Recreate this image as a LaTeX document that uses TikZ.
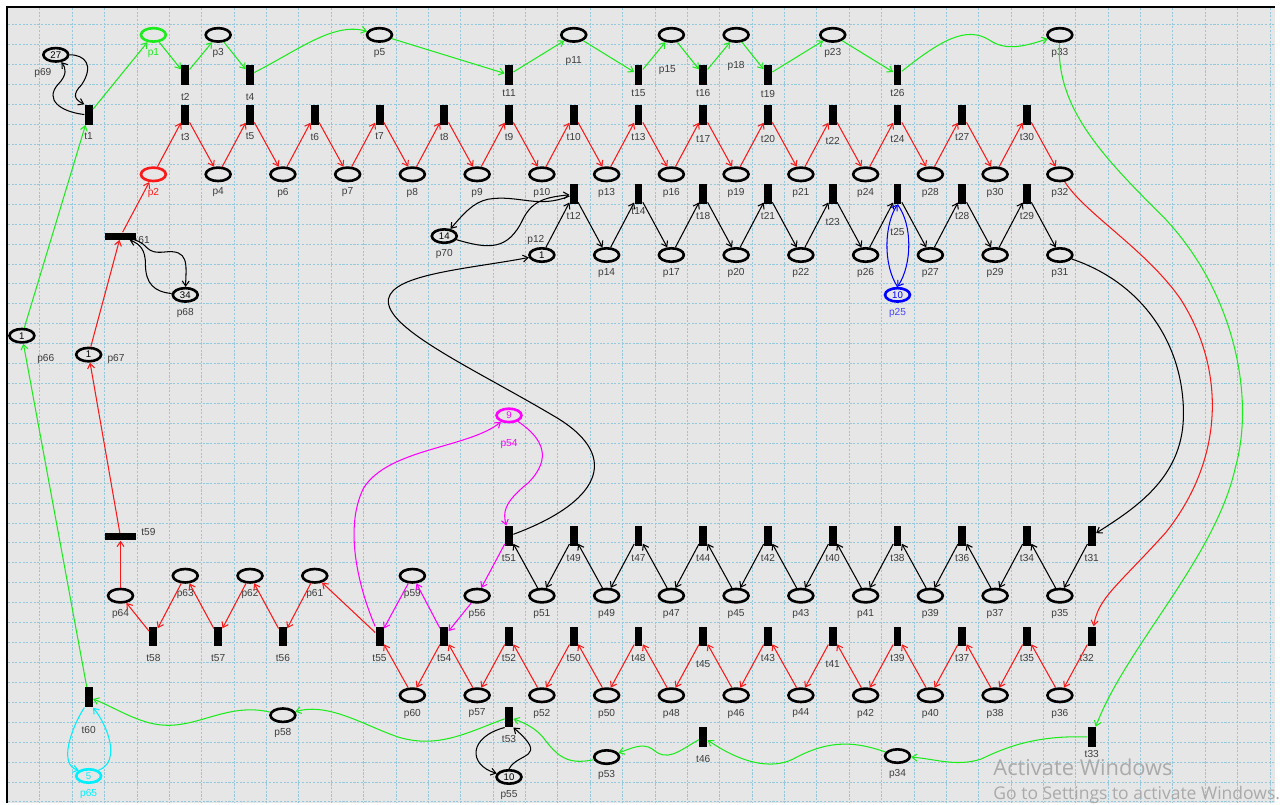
\documentclass[tikz,border=0pt]{standalone}
\usepackage{fontspec}
\setmainfont{Liberation Sans}
\newfontfamily\winfont{Open Sans}
\usetikzlibrary{arrows.meta, shapes.geometric}

\definecolor{bggray}{RGB}{230,230,230}
\definecolor{gridblue}{RGB}{150,200,220}
\definecolor{lblgray}{RGB}{60,60,60}
\definecolor{netgreen}{RGB}{30,235,30}
\definecolor{netred}{RGB}{250,25,25}
\definecolor{netpink}{RGB}{255,0,255}
\definecolor{netblue}{RGB}{0,0,255}
\definecolor{lblblue}{RGB}{70,70,255}
\definecolor{netcyan}{RGB}{0,240,255}
\definecolor{wingray}{RGB}{170,170,170}

\begin{document}
\begin{tikzpicture}[x=0.02cm, y=-0.02cm,
    place/.style={draw, ellipse, line width=1.5pt, minimum width=0.5cm,
                  minimum height=0.27cm, inner sep=0pt},
    trans/.style={fill=black, minimum width=0.16cm, minimum height=0.4cm, inner sep=0pt},
    htrans/.style={fill=black, minimum width=0.62cm, minimum height=0.14cm, inner sep=0pt},
    pl/.style={label={[yshift=-0.07cm]below:#1}},
    tl/.style={label={[yshift=-0.12cm]below:#1}},
    token/.style={font=\fontsize{5.5}{6}\selectfont, inner sep=0pt, text=black},
    gridline/.style={gridblue, line width=0.5pt, dash pattern=on 1.2pt off 0.9pt},
    flow/.style={-{Straight Barb[length=1mm,width=1.4mm]}, line width=0.6pt},
    gflow/.style={flow, draw=netgreen},
    rflow/.style={flow, draw=netred},
    kflow/.style={flow, draw=black},
    mflow/.style={flow, draw=netpink},
    bflow/.style={flow, draw=netblue},
    cflow/.style={flow, draw=netcyan},
    every label/.style={font=\fontsize{5.8}{6}\selectfont, text=lblgray, inner sep=1pt}
]
% Sheet and grid
\fill[white] (0,0) rectangle (1280,806);
\fill[bggray] (7,7) rectangle (1280,806);
\foreach \gx in {1,...,39} \draw[gridline] (7.5+32.5*\gx,8) -- (7.5+32.5*\gx,806);
\foreach \gy in {1,...,40} \draw[gridline] (8,5+20*\gy) -- (1280,5+20*\gy);
\draw[line width=1.2pt] (7,806) -- (7,7) -- (1280,7);

% Top row
\node[place, draw=netgreen, label={[text=netgreen,yshift=-0.07cm]below:p1}] (p1) at (154,35) {};
\node[place, pl=p3] (p3) at (219,35) {};
\node[place, pl=p5] (p5) at (381,35) {};
\node[place, label={[yshift=-0.23cm]below:p11}] (p11) at (576,35) {};
\node[place, label={[xshift=-0.08cm,yshift=-0.41cm]below:p15}] (p15) at (674,35) {};
\node[place, label={[yshift=-0.33cm]below:p18}] (p18) at (739,35) {};
\node[place, pl=p23] (p23) at (836,35) {};
\node[place, pl=p33] (p33) at (1064,35) {};
\node[trans, tl=t2] (t2) at (186,75) {};
\node[trans, tl=t4] (t4) at (251,75) {};
\node[trans, label={[yshift=-0.04cm]below:t11}] (t11) at (511,75) {};
\node[trans, label={[yshift=-0.04cm]below:t15}] (t15) at (641,75) {};
\node[trans, label={[yshift=-0.04cm]below:t16}] (t16) at (706,75) {};
\node[trans, label={[yshift=-0.06cm]below:t19}] (t19) at (771,75) {};
\node[trans, label={[yshift=-0.04cm]below:t26}] (t26) at (901,75) {};

% Second row transitions
\node[trans, tl=t1] (t1) at (89,115) {};
\node[trans, tl=t3] (t3) at (186,115) {};
\node[trans, tl=t5] (t5) at (251,115) {};
\node[trans, tl=t6] (t6) at (316,115) {};
\node[trans, tl=t7] (t7) at (381,115) {};
\node[trans, tl=t8] (t8) at (446,115) {};
\node[trans, tl=t9] (t9) at (511,115) {};
\node[trans, tl=t10] (t10) at (576,115) {};
\node[trans, tl=t13] (t13) at (641,115) {};
\node[trans, label={[yshift=-0.18cm]below:t17}] (t17) at (706,115) {};
\node[trans, label={[yshift=-0.16cm]below:t20}] (t20) at (771,115) {};
\node[trans, label={[yshift=-0.2cm]below:t22}] (t22) at (836,115) {};
\node[trans, label={[yshift=-0.16cm]below:t24}] (t24) at (901,115) {};
\node[trans, tl=t27] (t27) at (966,115) {};
\node[trans, tl=t30] (t30) at (1031,115) {};

% Third row places
\node[place, draw=netred, label={[text=netred,yshift=-0.07cm]below:p2}] (p2) at (154,175) {};
\node[place, pl=p4] (p4) at (219,175) {};
\node[place, pl=p6] (p6) at (284,175) {};
\node[place, pl=p7] (p7) at (349,175) {};
\node[place, pl=p8] (p8) at (414,175) {};
\node[place, pl=p9] (p9) at (479,175) {};
\node[place, pl=p10] (p10) at (544,175) {};
\node[place, pl=p13] (p13) at (609,175) {};
\node[place, pl=p16] (p16) at (674,175) {};
\node[place, pl=p19] (p19) at (739,175) {};
\node[place, pl=p21] (p21) at (804,175) {};
\node[place, pl=p24] (p24) at (869,175) {};
\node[place, pl=p28] (p28) at (934,175) {};
\node[place, pl=p30] (p30) at (999,175) {};
\node[place, pl=p32] (p32) at (1064,175) {};

% Fourth row transitions
\node[trans, tl=t12] (t12) at (576,195) {};
\node[trans, label={[yshift=-0.02cm]below:t14}] (t14) at (641,195) {};
\node[trans, tl=t18] (t18) at (706,195) {};
\node[trans, tl=t21] (t21) at (771,195) {};
\node[trans, label={[yshift=-0.24cm]below:t23}] (t23) at (836,195) {};
\node[trans, label={[yshift=-0.44cm]below:t25}] (t25) at (901,195) {};
\node[trans, tl=t28] (t28) at (966,195) {};
\node[trans, tl=t29] (t29) at (1031,195) {};

% Fifth row places
\node[place, label={[token]center:1}, label={[xshift=-0.12cm]above:p12}] (p12) at (544,256) {};
\node[place, pl=p14] (p14) at (609,256) {};
\node[place, pl=p17] (p17) at (674,256) {};
\node[place, pl=p20] (p20) at (739,256) {};
\node[place, pl=p22] (p22) at (804,256) {};
\node[place, pl=p26] (p26) at (869,256) {};
\node[place, pl=p27] (p27) at (934,256) {};
\node[place, pl=p29] (p29) at (999,256) {};
\node[place, pl=p31] (p31) at (1064,256) {};
\node[place, draw=netblue, label={[token, text=netblue]center:10},
      label={[text=lblblue,yshift=-0.07cm]below:p25}] (p25) at (901,296) {};

% Left side
\node[place, label={[token]center:27}, label={[xshift=-0.26cm,yshift=-0.07cm]below:p69}] (p69) at (56,55) {};
\node[htrans, label={[yshift=-0.08cm]right:61}] (t61) at (121,237) {};
\node[place, label={[token]center:34}, pl=p68] (p68) at (186,296) {};
\node[place, label={[token]center:1}, label={[xshift=0.48cm,yshift=-0.17cm]below:p66}] (p66) at (22,337) {};
\node[place, label={[token]center:1}, label={[xshift=0.06cm,yshift=-0.08cm]right:p67}] (p67) at (89,356) {};
\node[place, label={[token]center:14}, pl=p70] (p70) at (446,237) {};
\node[place, draw=netpink, label={[token, text=netpink]center:9},
      label={[text=netpink, yshift=-0.29cm]below:p54}] (p54) at (511,417) {};
\node[htrans, label={[xshift=0.06cm,yshift=0.1cm]right:t59}] (t59) at (121,539) {};

% Lower black row
\node[trans, tl=t51] (t51) at (511,538) {};
\node[trans, tl=t49] (t49) at (576,538) {};
\node[trans, tl=t47] (t47) at (641,538) {};
\node[trans, tl=t44] (t44) at (706,538) {};
\node[trans, tl=t42] (t42) at (771,538) {};
\node[trans, tl=t40] (t40) at (836,538) {};
\node[trans, tl=t38] (t38) at (901,538) {};
\node[trans, tl=t36] (t36) at (966,538) {};
\node[trans, tl=t34] (t34) at (1031,538) {};
\node[trans, tl=t31] (t31) at (1096,538) {};
\node[place, pl=p63] (p63) at (186,578) {};
\node[place, pl=p62] (p62) at (251,578) {};
\node[place, pl=p61] (p61) at (316,578) {};
\node[place, pl=p59] (p59) at (414,578) {};
\node[place, pl=p64] (p64) at (121,598) {};
\node[place, pl=p56] (p56) at (479,598) {};
\node[place, pl=p51] (p51) at (544,598) {};
\node[place, pl=p49] (p49) at (609,598) {};
\node[place, pl=p47] (p47) at (674,598) {};
\node[place, pl=p45] (p45) at (739,598) {};
\node[place, pl=p43] (p43) at (804,598) {};
\node[place, pl=p41] (p41) at (869,598) {};
\node[place, pl=p39] (p39) at (934,598) {};
\node[place, pl=p37] (p37) at (999,598) {};
\node[place, pl=p35] (p35) at (1064,598) {};

% Lower red row
\node[trans, tl=t58] (t58) at (154,639) {};
\node[trans, tl=t57] (t57) at (219,639) {};
\node[trans, tl=t56] (t56) at (284,639) {};
\node[trans, tl=t55] (t55) at (381,639) {};
\node[trans, tl=t54] (t54) at (446,639) {};
\node[trans, tl=t52] (t52) at (511,639) {};
\node[trans, tl=t50] (t50) at (576,639) {};
\node[trans, tl=t48] (t48) at (641,639) {};
\node[trans, label={[yshift=-0.24cm]below:t45}] (t45) at (706,639) {};
\node[trans, tl=t43] (t43) at (771,639) {};
\node[trans, label={[yshift=-0.24cm]below:t41}] (t41) at (836,639) {};
\node[trans, tl=t39] (t39) at (901,639) {};
\node[trans, tl=t37] (t37) at (966,639) {};
\node[trans, tl=t35] (t35) at (1031,639) {};
\node[trans, label={[xshift=-0.1cm,yshift=-0.12cm]below:t32}] (t32) at (1096,639) {};
\node[place, pl=p60] (p60) at (414,698) {};
\node[place, pl=p57] (p57) at (479,698) {};
\node[place, pl=p52] (p52) at (544,698) {};
\node[place, pl=p50] (p50) at (609,698) {};
\node[place, pl=p48] (p48) at (674,698) {};
\node[place, pl=p46] (p46) at (739,698) {};
\node[place, pl=p44] (p44) at (804,698) {};
\node[place, pl=p42] (p42) at (869,698) {};
\node[place, pl=p40] (p40) at (934,698) {};
\node[place, pl=p38] (p38) at (999,698) {};
\node[place, pl=p36] (p36) at (1064,698) {};

% Bottom row
\node[trans, label={[yshift=-0.34cm]below:t60}] (t60) at (89,700) {};
\node[place, draw=netcyan, label={[token, text=netcyan]center:5},
      label={[text=netcyan,yshift=-0.07cm]below:p65}] (p65) at (89,779) {};
\node[place, pl=p58] (p58) at (284,718) {};
\node[trans, tl=t53] (t53) at (511,720) {};
\node[place, label={[token]center:10}, pl=p55] (p55) at (511,780) {};
\node[place, pl=p53] (p53) at (609,760) {};
\node[trans, tl=t46] (t46) at (706,740) {};
\node[place, pl=p34] (p34) at (901,759) {};
\node[trans, label={[yshift=-0.01cm]below:t33}] (t33) at (1096,740) {};

% Green cycle
\draw[gflow] (t60) -- (p66);
\draw[gflow] (p66) -- (t1);
\draw[gflow] (t1) -- (p1);
\draw[gflow] (p1) -- (t2);
\draw[gflow] (t2) -- (p3);
\draw[gflow] (p3) -- (t4);
\draw[gflow] (t4) .. controls (300,50) and (335,22) .. (p5);
\draw[gflow] (p5) -- (t11);
\draw[gflow] (t11) -- (p11);
\draw[gflow] (p11) -- (t15);
\draw[gflow] (t15) -- (p15);
\draw[gflow] (p15) -- (t16);
\draw[gflow] (t16) -- (p18);
\draw[gflow] (p18) -- (t19);
\draw[gflow] (t19) -- (p23);
\draw[gflow] (p23) -- (t26);
\draw[gflow] (t26) .. controls (945,40) and (970,26) .. (993,40) .. controls (1010,52) and (1030,46) .. (p33);
\draw[gflow] (p33) .. controls (1060,110) and (1110,160) .. (1170,220)
    .. controls (1240,295) and (1260,400) .. (1240,470) .. controls (1220,560) and (1130,650) .. (t33);
\draw[gflow] (t33) .. controls (1040,738) and (1010,750) .. (985,762) .. controls (960,770) and (940,762) .. (p34);
\draw[gflow] (p34) .. controls (860,745) and (835,742) .. (800,760) .. controls (780,772) and (750,770) .. (t46);
\draw[gflow] (t46) .. controls (680,755) and (670,765) .. (655,752) .. controls (645,745) and (632,752) .. (p53);
\draw[gflow] (p53) .. controls (570,768) and (560,760) .. (545,740) .. controls (538,732) and (530,727) .. (t53);
\draw[gflow] (t53) .. controls (470,735) and (440,752) .. (400,740) .. controls (365,728) and (330,705) .. (p58);
\draw[gflow] (p58) .. controls (230,705) and (200,730) .. (165,728) .. controls (140,727) and (115,710) .. (t60);

% Red cycle, upper part
\draw[rflow] (p64) -- (t59);
\draw[rflow] (t59) -- (p67);
\draw[rflow] (p67) -- (t61);
\draw[rflow] (t61) -- (p2);
\draw[rflow] (p2) -- (t3);
\draw[rflow] (t3) -- (p4);
\draw[rflow] (p4) -- (t5);
\draw[rflow] (t5) -- (p6);
\draw[rflow] (p6) -- (t6);
\draw[rflow] (t6) -- (p7);
\draw[rflow] (p7) -- (t7);
\draw[rflow] (t7) -- (p8);
\draw[rflow] (p8) -- (t8);
\draw[rflow] (t8) -- (p9);
\draw[rflow] (p9) -- (t9);
\draw[rflow] (t9) -- (p10);
\draw[rflow] (p10) -- (t10);
\draw[rflow] (t10) -- (p13);
\draw[rflow] (p13) -- (t13);
\draw[rflow] (t13) -- (p16);
\draw[rflow] (p16) -- (t17);
\draw[rflow] (t17) -- (p19);
\draw[rflow] (p19) -- (t20);
\draw[rflow] (t20) -- (p21);
\draw[rflow] (p21) -- (t22);
\draw[rflow] (t22) -- (p24);
\draw[rflow] (p24) -- (t24);
\draw[rflow] (t24) -- (p28);
\draw[rflow] (p28) -- (t27);
\draw[rflow] (t27) -- (p30);
\draw[rflow] (p30) -- (t30);
\draw[rflow] (t30) -- (p32);
\draw[rflow] (p32) .. controls (1090,215) and (1150,250) .. (1185,300)
    .. controls (1230,370) and (1230,460) .. (1170,535) .. controls (1120,590) and (1103,600) .. (t32);

% Red cycle, lower part
\draw[rflow] (t32) -- (p36);
\draw[rflow] (p36) -- (t35);
\draw[rflow] (t35) -- (p38);
\draw[rflow] (p38) -- (t37);
\draw[rflow] (t37) -- (p40);
\draw[rflow] (p40) -- (t39);
\draw[rflow] (t39) -- (p42);
\draw[rflow] (p42) -- (t41);
\draw[rflow] (t41) -- (p44);
\draw[rflow] (p44) -- (t43);
\draw[rflow] (t43) -- (p46);
\draw[rflow] (p46) -- (t45);
\draw[rflow] (t45) -- (p48);
\draw[rflow] (p48) -- (t48);
\draw[rflow] (t48) -- (p50);
\draw[rflow] (p50) -- (t50);
\draw[rflow] (t50) -- (p52);
\draw[rflow] (p52) -- (t52);
\draw[rflow] (t52) -- (p57);
\draw[rflow] (p57) -- (t54);
\draw[rflow] (t54) -- (p60);
\draw[rflow] (p60) -- (t55);
\draw[rflow] (t55) -- (p61);
\draw[rflow] (p61) -- (t56);
\draw[rflow] (t56) -- (p62);
\draw[rflow] (p62) -- (t57);
\draw[rflow] (t57) -- (p63);
\draw[rflow] (p63) -- (t58);
\draw[rflow] (t58) -- (p64);

% Black cycle
\draw[kflow] (p12) -- (t12);
\draw[kflow] (t12) -- (p14);
\draw[kflow] (p14) -- (t14);
\draw[kflow] (t14) -- (p17);
\draw[kflow] (p17) -- (t18);
\draw[kflow] (t18) -- (p20);
\draw[kflow] (p20) -- (t21);
\draw[kflow] (t21) -- (p22);
\draw[kflow] (p22) -- (t23);
\draw[kflow] (t23) -- (p26);
\draw[kflow] (p26) -- (t25);
\draw[kflow] (t25) -- (p27);
\draw[kflow] (p27) -- (t28);
\draw[kflow] (t28) -- (p29);
\draw[kflow] (p29) -- (t29);
\draw[kflow] (t29) -- (p31);
\draw[kflow] (p31) .. controls (1150,285) and (1190,350) .. (1188,420) .. controls (1186,480) and (1140,510) .. (t31);
\draw[kflow] (t31) -- (p35);
\draw[kflow] (p35) -- (t34);
\draw[kflow] (t34) -- (p37);
\draw[kflow] (p37) -- (t36);
\draw[kflow] (t36) -- (p39);
\draw[kflow] (p39) -- (t38);
\draw[kflow] (t38) -- (p41);
\draw[kflow] (p41) -- (t40);
\draw[kflow] (t40) -- (p43);
\draw[kflow] (p43) -- (t42);
\draw[kflow] (t42) -- (p45);
\draw[kflow] (p45) -- (t44);
\draw[kflow] (t44) -- (p47);
\draw[kflow] (p47) -- (t47);
\draw[kflow] (t47) -- (p49);
\draw[kflow] (p49) -- (t49);
\draw[kflow] (t49) -- (p51);
\draw[kflow] (p51) -- (t51);
\draw[kflow] (t51) .. controls (600,505) and (625,460) .. (560,420)
    .. controls (480,372) and (385,330) .. (390,300) .. controls (395,275) and (470,270) .. (p12);

% Magenta part
\draw[mflow] (t51) -- (p56);
\draw[mflow] (p56) -- (t54);
\draw[mflow] (t54) -- (p59);
\draw[mflow] (p59) -- (t55);
\draw[mflow] (t55) .. controls (360,590) and (345,530) .. (365,490) .. controls (390,450) and (470,450) .. (p54);
\draw[mflow] (p54) .. controls (545,440) and (555,460) .. (530,485) .. controls (505,505) and (505,515) .. (t51);

% Self loops
\draw[kflow] (t1.west) .. controls (60,112) and (45,100) .. (58,85) .. controls (68,75) and (66,68) .. (p69);
\draw[kflow] (p69) .. controls (85,55) and (95,65) .. (82,85) .. controls (72,95) and (75,100) .. (t1.north west);
\draw[kflow] (p68) .. controls (155,293) and (146,285) .. (146,265) .. controls (146,250) and (140,245) .. (t61);
\draw[kflow] (t61) .. controls (150,245) and (145,255) .. (165,253) .. controls (190,250) and (187,265) .. (p68);
\draw[kflow] (p70) .. controls (490,250) and (510,252) .. (525,220) .. controls (535,200) and (550,198) .. (t12);
\draw[kflow] (t12) .. controls (540,210) and (520,195) .. (490,200) .. controls (475,203) and (465,215) .. (p70);
\draw[bflow] (p25.north) .. controls (886,265) and (888,225) .. (t25.south);
\draw[bflow] (t25.south) .. controls (916,225) and (916,265) .. (p25.north);
\draw[cflow] (t60.south west) .. controls (72,730) and (58,768) .. (p65.north west);
\draw[cflow] (p65.north east) .. controls (122,765) and (108,728) .. (t60.south east);
\draw[kflow] (t53.south west) .. controls (470,740) and (470,768) .. (p55);
\draw[kflow] (p55.north) .. controls (520,755) and (552,762) .. (t53.south east);

% Screen overlay text
\node[anchor=base west, inner sep=0pt, text=wingray, font=\winfont\fontsize{12.5}{15}\selectfont]
    (winnote) at (997,779) {Activate Windows};
\node[anchor=base west, inner sep=0pt, text=wingray, font=\winfont\fontsize{10}{12}\selectfont]
    (winhint) at (997,803) {Go to Settings to activate Windows.};
\useasboundingbox (0,0) rectangle (1280,806);
\end{tikzpicture}
\end{document}
